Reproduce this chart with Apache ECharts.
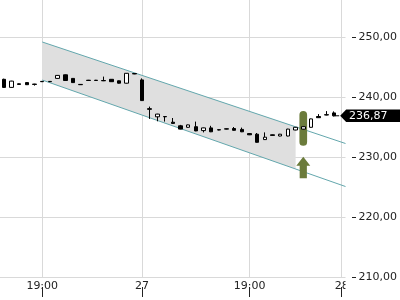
<!DOCTYPE html>
<html><head><meta charset="utf-8">
<script src="https://cdn.jsdelivr.net/npm/echarts@6/dist/echarts.min.js"></script>
<style>html,body{margin:0;padding:0;background:#fff}#c{width:400px;height:300px}</style>
</head><body><div id="c"></div>
<script>
// candle values (one per time slot)
const opens  = [242.95,241.60,242.20,242.40,242.15,242.60,242.60,243.10,243.70,243.10,242.10,242.80,242.80,242.75,242.95,242.70,242.30,243.90,242.85,238.05,236.70,236.75,235.80,235.20,234.95,235.05,234.40,234.85,234.55,234.70,234.75,234.60,233.90,233.80,232.90,233.70,233.50,233.50,234.50,234.65,234.95,236.75,237.05,237.35];
const closes = [241.60,242.65,242.10,242.05,242.10,242.55,242.55,243.60,242.75,242.40,242.05,242.75,242.75,242.70,242.55,242.30,243.95,243.85,239.40,237.95,237.15,236.70,235.60,234.65,235.35,234.35,234.85,234.20,234.50,234.65,234.45,234.20,233.70,232.45,233.30,233.60,233.80,234.65,234.95,235.05,236.35,236.55,237.00,236.87];
const lows   = [241.50,241.55,242.05,242.00,241.90,242.50,242.50,243.05,242.70,242.35,242.00,242.70,242.70,242.65,242.50,242.25,242.25,243.80,239.35,236.35,235.95,235.90,235.55,234.60,234.90,234.30,234.10,234.15,234.45,234.60,234.40,234.15,233.65,232.40,232.85,233.55,233.45,233.45,234.45,234.60,234.90,236.50,236.95,236.75];
const highs  = [243.05,242.70,242.25,242.45,242.20,242.65,242.65,243.65,243.75,243.15,242.15,242.85,242.85,243.40,243.00,242.75,244.00,243.95,243.10,238.40,237.20,236.80,236.50,235.35,235.40,235.90,234.90,235.20,234.60,234.75,235.00,234.90,234.00,234.00,234.10,233.75,233.85,234.70,235.00,235.10,236.40,237.15,237.65,237.60];
const slotCount = 45;
const tickLabels = [[5,'19:00'],[18,'27'],[32,'19:00'],[44,'28']];
const yMin = 210, yMax = 260, yStep = 10;
// trend channel (slot index, price)
const channelUpper = [[5,249.17],[44.5,232.25]];
const channelLower = [[5,242.83],[44.5,225.08]];
const channelFillUpper = [[5,249.17],[38,235.03]];
const channelFillLower = [[5,242.83],[38,228.00]];
// signal: slot, bar bottom, bar top, arrow base, arrow tip
const signal = [39, 231.88, 237.67, 226.45, 230.05];
const lastPrice = [43, 236.87];

const categories = Array.from({length: slotCount}, (_, i) => String(i));
const labelMap = new Map(tickLabels);
const showTick = (i) => labelMap.has(i);
const FONT = 'DejaVu Sans';
const olive = '#6b7b3b';

const chart = echarts.init(document.getElementById('c'), null, {renderer: 'canvas'});
chart.setOption({
  animation: false,
  backgroundColor: '#fff',
  grid: {left: 0, top: -23, width: 345.5, bottom: 23, containLabel: false, outerBoundsMode: 'none'},
  xAxis: [{
    type: 'category', data: categories, boundaryGap: true, offset: 10, position: 'bottom',
    axisLine: {show: false, onZero: false},
    axisTick: {show: true, alignWithLabel: true, interval: showTick, length: 10, lineStyle: {color: '#222', width: 1}},
    axisLabel: {interval: showTick, formatter: (v, i) => labelMap.get(i) || '', margin: -6, color: '#222', fontSize: 11, fontFamily: FONT},
    splitLine: {show: true, alignWithLabel: true, interval: showTick, lineStyle: {color: '#d9d9d9', width: 1}}
  }, {
    type: 'value', min: -0.5, max: slotCount - 0.5, show: false, position: 'bottom',
    axisLine: {onZero: false}
  }],
  yAxis: [{
    type: 'value', position: 'right', min: yMin, max: yMax, interval: yStep, offset: 6.5,
    axisLine: {show: false, onZero: false},
    axisTick: {show: true, length: 4, lineStyle: {color: '#222', width: 1}},
    axisLabel: {margin: 6.5, color: '#222', fontSize: 11, fontFamily: FONT, formatter: v => v.toFixed(2).replace('.', ',')},
    splitLine: {show: true, lineStyle: {color: '#d9d9d9', width: 1}}
  }],
  graphic: [{type: 'rect', z: 100, shape: {x: 345.5, y: 281, width: 6, height: 11.5}, style: {fill: '#fff'}}],
  series: [
    {
      type: 'custom', xAxisIndex: 1, yAxisIndex: 0, z: 1, silent: true,
      data: [channelFillUpper[0]],
      renderItem: (params, api) => {
        const pts = channelFillUpper.concat(channelFillLower.slice().reverse()).map(p => api.coord(p));
        return {type: 'polygon', shape: {points: pts}, style: {fill: '#dfdfdf'}};
      }
    },
    {type: 'line', xAxisIndex: 1, z: 2, data: channelUpper, symbol: 'none', lineStyle: {color: '#63a7ad', width: 1}},
    {type: 'line', xAxisIndex: 1, z: 2, data: channelLower, symbol: 'none', lineStyle: {color: '#63a7ad', width: 1}},
    {
      type: 'custom', xAxisIndex: 0, z: 3, silent: true, clip: false,
      data: [signal],
      renderItem: (params, api) => {
        const x = api.value(0);
        const bot = api.coord([x, api.value(1)]);
        const top = api.coord([x, api.value(2)]);
        const aBase = api.coord([x, api.value(3)]);
        const aTip = api.coord([x, api.value(4)]);
        const w = api.size([1, 0])[0];
        const cx = top[0];
        const hh = 9;
        return {type: 'group', children: [
          {type: 'rect', shape: {x: cx - w / 2, y: top[1], width: w, height: bot[1] - top[1], r: w / 2}, style: {fill: olive}},
          {type: 'polygon', shape: {points: [[cx, aTip[1]], [cx + 7, aTip[1] + hh], [cx + 3.6, aTip[1] + hh], [cx + 3.6, aBase[1]], [cx - 3.6, aBase[1]], [cx - 3.6, aTip[1] + hh], [cx - 7, aTip[1] + hh]]}, style: {fill: olive}}
        ]};
      }
    },
    {
      type: 'candlestick', xAxisIndex: 0, z: 4, barWidth: 4,
      data: opens.map((o, i) => [o, closes[i], lows[i], highs[i]]),
      itemStyle: {color: '#fff', color0: '#000', borderColor: '#000', borderColor0: '#000', borderWidth: 1}
    },
    {
      type: 'custom', xAxisIndex: 0, z: 5, silent: true, clip: false,
      data: [lastPrice],
      renderItem: (params, api) => {
        const p = api.coord([api.value(0), api.value(1)]);
        const w = api.size([1, 0])[0];
        const x0 = p[0] + w - 2.5;
        const y = p[1];
        return {type: 'group', children: [
          {type: 'rect', shape: {x: x0 - 5, y: y - 0.5, width: 5, height: 1}, style: {fill: '#000'}},
          {type: 'polygon', shape: {points: [[x0 + 1, y], [x0 + 7, y - 6.2], [x0 + 70, y - 6.2], [x0 + 70, y + 6.2], [x0 + 7, y + 6.2]]}, style: {fill: '#000'}},
          {type: 'text', style: {text: api.value(1).toFixed(2).replace('.', ','), x: x0 + 29, y: y, align: 'center', verticalAlign: 'middle', fill: '#fff', font: '11px "' + FONT + '"'}}
        ]};
      }
    }
  ]
});
</script></body></html>
